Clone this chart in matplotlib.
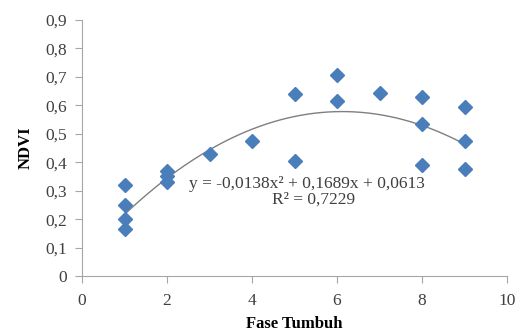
import matplotlib.pyplot as plt
import numpy as np

# growth phase vs NDVI
fase = [1, 1, 1, 1, 2, 2, 2, 3, 4, 5, 5, 6, 6, 7, 8, 8, 8, 9, 9, 9]
ndvi = [0.32, 0.25, 0.20, 0.165, 0.37, 0.35, 0.33, 0.43, 0.475, 0.64, 0.405,
        0.705, 0.615, 0.645, 0.63, 0.535, 0.39, 0.595, 0.475, 0.375]

# trendline coefficients as printed on the chart
coef = [-0.0138, 0.1689, 0.0613]
r2 = 0.7229

plt.rcParams["font.family"] = ["Liberation Serif", "DejaVu Serif"]

fig = plt.figure(figsize=(5.19, 3.33), dpi=100)
ax = fig.add_axes([0.158, 0.171, 0.819, 0.769])

xs = np.linspace(min(fase), max(fase), 200)
ax.plot(xs, np.polyval(coef, xs), color="#7f7f7f", lw=1.0, zorder=1)
ax.plot(fase, ndvi, ls="none", marker="D", ms=7.5, color="#4a7ebb",
        mec="#4a7ebb", zorder=2)

ax.text(5.3, 0.325, "y = -0,0138x² + 0,1689x + 0,0613", ha="center",
        va="center", fontsize=12.5, color="#404040")
ax.text(5.45, 0.268, "R² = 0,7229", ha="center", va="center",
        fontsize=12.5, color="#404040")

ax.set_xlim(0, 10)
ax.set_ylim(0, 0.9)
ax.set_xticks(range(0, 11, 2))
ax.set_yticks(np.arange(0, 0.91, 0.1))
ax.set_yticklabels([f"{v:.1f}".replace(".", ",") if v > 0 else "0"
                    for v in np.arange(0, 0.91, 0.1)])

for s in ["top", "right"]:
    ax.spines[s].set_visible(False)
for s in ["left", "bottom"]:
    ax.spines[s].set_color("#a6a6a6")
ax.tick_params(colors="#a6a6a6", labelcolor="#404040", labelsize=12.5,
               length=5, direction="out")
ax.tick_params(axis="x", pad=7)
ax.tick_params(axis="y", pad=6)

ax.set_xlabel("Fase Tumbuh", fontsize=12, fontweight="bold", labelpad=5)
ax.set_ylabel("NDVI", fontsize=12, fontweight="bold", labelpad=8)

fig.savefig("out.png", dpi=100)
